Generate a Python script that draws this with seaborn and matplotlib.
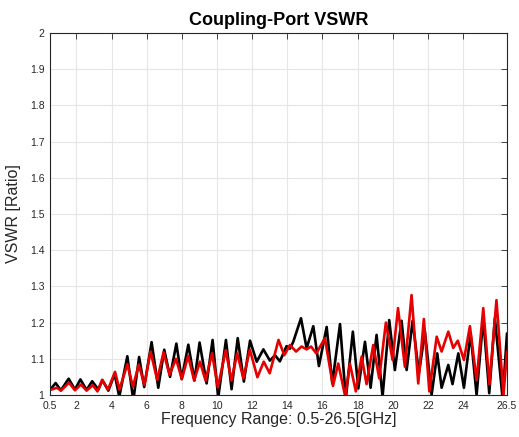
import matplotlib
matplotlib.use("Agg")
import matplotlib.pyplot as plt
import seaborn as sns
import pandas as pd

# ---- data ----
black_freq = [0.5, 0.82, 1.12, 1.56, 1.92, 2.23, 2.58, 2.9, 3.25, 3.48, 3.82, 4.18, 4.44, 4.9,
              5.24, 5.57, 5.86, 6.28, 6.66, 7.0, 7.33, 7.69, 7.99, 8.37, 8.72, 9.01, 9.41, 9.75,
              10.07, 10.51, 10.83, 11.18, 11.53, 11.88, 12.26, 12.64, 13.01, 13.3, 13.58, 13.96,
              14.15, 14.34, 14.78, 15.1, 15.48, 15.8, 16.24, 16.56, 17.0, 17.33, 17.73, 18.04,
              18.42, 18.74, 19.08, 19.42, 19.8, 20.12, 20.5, 20.79, 21.13, 21.49, 21.83, 22.21,
              22.53, 22.78, 23.16, 23.4, 23.73, 24.05, 24.43, 24.77, 25.15, 25.49, 25.81, 26.25, 26.5]
black_vswr = [1.014, 1.033, 1.013, 1.045, 1.015, 1.043, 1.014, 1.038, 1.015, 1.041, 1.012, 1.058,
              0.995, 1.107, 0.985, 1.105, 1.022, 1.146, 1.02, 1.125, 1.05, 1.142, 1.044, 1.139,
              1.04, 1.145, 1.032, 1.152, 0.992, 1.152, 1.016, 1.157, 1.037, 1.15, 1.092, 1.126,
              1.095, 1.11, 1.093, 1.135, 1.128, 1.147, 1.212, 1.129, 1.19, 1.08, 1.188, 1.032,
              1.196, 0.99, 1.175, 1.018, 1.147, 1.02, 1.166, 0.995, 1.207, 1.069, 1.205, 1.069,
              1.205, 1.06, 1.175, 1.0, 1.115, 1.02, 1.083, 1.03, 1.115, 1.02, 1.17, 1.0, 1.212,
              1.005, 1.212, 0.99, 1.17]

red_freq = [0.5, 0.9, 1.12, 1.58, 1.92, 2.26, 2.58, 2.93, 3.2, 3.47, 3.8, 4.2, 4.45, 4.9, 5.22,
            5.55, 5.87, 6.22, 6.6, 6.96, 7.3, 7.67, 8.0, 8.36, 8.7, 9.03, 9.35, 9.72, 10.05, 10.5,
            10.82, 11.15, 11.5, 11.87, 12.3, 12.66, 13.0, 13.5, 13.83, 14.15, 14.5, 14.81, 15.1,
            15.35, 15.65, 16.14, 16.6, 16.9, 17.3, 17.56, 17.9, 18.23, 18.51, 18.89, 19.23, 19.61,
            19.99, 20.3, 20.69, 21.07, 21.45, 21.77, 22.08, 22.5, 22.78, 23.16, 23.44, 23.7, 24.05,
            24.39, 24.77, 25.15, 25.5, 25.9, 26.3, 26.5]
red_vswr = [1.014, 1.02, 1.012, 1.034, 1.013, 1.029, 1.012, 1.027, 1.01, 1.042, 1.015, 1.064,
            1.015, 1.085, 1.023, 1.084, 1.028, 1.12, 1.042, 1.118, 1.056, 1.1, 1.044, 1.108, 1.04,
            1.092, 1.04, 1.115, 1.021, 1.124, 1.04, 1.115, 1.046, 1.125, 1.049, 1.092, 1.06, 1.152,
            1.11, 1.138, 1.12, 1.134, 1.126, 1.134, 1.115, 1.157, 1.025, 1.087, 0.995, 1.087, 1.01,
            1.106, 1.03, 1.138, 1.046, 1.2, 1.097, 1.24, 1.078, 1.276, 1.032, 1.21, 1.01, 1.161,
            1.12, 1.175, 1.13, 1.15, 1.097, 1.19, 1.04, 1.24, 1.03, 1.262, 1.0, 1.12]

x_ticks = [0.5, 2, 4, 6, 8, 10, 12, 14, 16, 18, 20, 22, 24, 26.5]
x_tick_labels = ["0.5", "2", "4", "6", "8", "10", "12", "14", "16", "18", "20", "22", "24", "26.5"]
y_ticks = [1.0, 1.1, 1.2, 1.3, 1.4, 1.5, 1.6, 1.7, 1.8, 1.9, 2.0]
y_tick_labels = ["1", "1.1", "1.2", "1.3", "1.4", "1.5", "1.6", "1.7", "1.8", "1.9", "2"]

title = "Coupling-Port VSWR"
xlabel = "Frequency Range: 0.5-26.5[GHz]"
ylabel = "VSWR [Ratio]"

# ---- plotting ----
sns.set_style("white")
plt.rcParams["font.family"] = ["Liberation Sans", "DejaVu Sans"]

fig = plt.figure(figsize=(5.19, 4.37), dpi=100)
ax = fig.add_axes([50 / 519, 1 - 395 / 437, (507 - 50) / 519, (395 - 33) / 437])

df_black = pd.DataFrame({"f": black_freq, "v": black_vswr})
df_red = pd.DataFrame({"f": red_freq, "v": red_vswr})
sns.lineplot(data=df_black, x="f", y="v", ax=ax, color="black", linewidth=1.9, sort=False)
sns.lineplot(data=df_red, x="f", y="v", ax=ax, color="#e60000", linewidth=1.9, sort=False)

ax.set_xlim(0.5, 26.5)
ax.set_ylim(1.0, 2.0)
ax.set_xticks(x_ticks)
ax.set_xticklabels(x_tick_labels)
ax.set_yticks(y_ticks)
ax.set_yticklabels(y_tick_labels)
ax.grid(True, color="#e6e6e6", linewidth=0.8)
ax.set_axisbelow(True)
for s in ax.spines.values():
    s.set_visible(True)
    s.set_color("#262626")
    s.set_linewidth(0.8)
ax.tick_params(axis="both", direction="in", length=4, width=0.6, color="#262626",
               labelsize=7.5, labelcolor="#262626", top=True, right=True, pad=4)

ax.set_title(title, fontsize=13, fontweight="bold", pad=6, color="black")
ax.set_xlabel(xlabel, fontsize=11.5, color="#262626", labelpad=1)
ax.set_ylabel(ylabel, fontsize=11.5, color="#262626", labelpad=6)

fig.savefig("out.png", dpi=100)
